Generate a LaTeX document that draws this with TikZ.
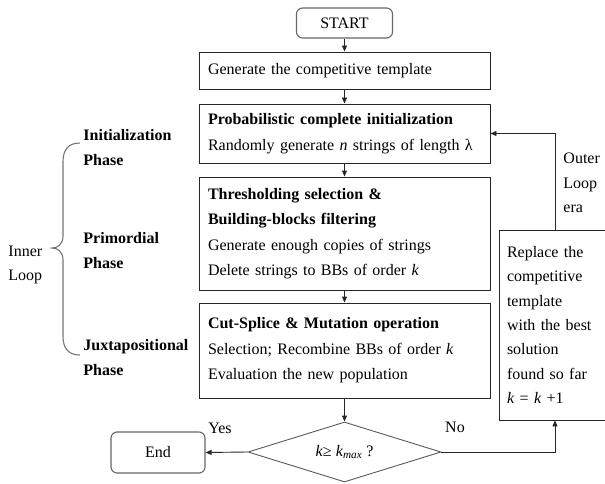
\documentclass[tikz,border=0pt]{standalone}
\usepackage{fontspec}
\setmainfont{Liberation Serif}
\usetikzlibrary{arrows.meta,shapes.geometric,calc}
\begin{document}
\begin{tikzpicture}[x=1pt,y=-1pt,
  font=\fontsize{16}{25.5}\selectfont,
  line width=0.9pt,
  proc/.style={draw=black!85, text width=273pt, align=left, inner xsep=9pt, inner ysep=0pt},
  term/.style={draw=black!60, rounded corners=6pt, line width=1.1pt, inner sep=0pt},
  flow/.style={draw=black!85, -{Triangle[length=6pt,width=5pt]}},
  phase/.style={font=\fontsize{16}{25}\selectfont\bfseries, align=left, anchor=west, inner sep=0pt},
  lbl/.style={inner sep=0pt, align=left}
]
\useasboundingbox (0,0) rectangle (605,484);

% main column
\node[term, minimum width=96pt, minimum height=30pt] (start) at (344.5,23) {START};
\node[proc, minimum height=37pt] (gen) at (344.5,70.5) {Generate the competitive template};
\node[proc, minimum height=59pt] (prob) at (344.5,133.5)
  {\textbf{Probabilistic complete initialization}\\
   Randomly generate \textit{n} strings of length λ};
\node[proc, minimum height=113pt] (thr) at (344.5,233.5)
  {\textbf{Thresholding selection \&}\\
   \textbf{Building-blocks filtering}\\
   Generate enough copies of strings\\
   Delete strings to BBs of order \textit{k}};
\node[proc, minimum height=95pt] (cut) at (344.5,350.5)
  {\textbf{Cut-Splice \& Mutation operation}\\
   Selection; Recombine BBs of order \textit{k}\\
   Evaluation the new population};
\node[diamond, aspect=3.2, minimum width=193pt, minimum height=60pt,
      draw=black!65, inner sep=0pt] (dia) at (344.5,452)
  {\textit{k}≥ \textit{k}\textsubscript{\textit{max}} ?};
\node[term, minimum width=94pt, minimum height=41pt] (end) at (158,452.5) {End};

% outer-loop box
\node[draw=black!85, text width=90pt, inner xsep=8pt, inner ysep=0pt, minimum height=190pt,
      align=left, font=\fontsize{16}{24.3}\selectfont] (rbox) at (552,325)
  {Replace the\\ competitive\\ template\\ with the best\\ solution\\ found so far\\
   \textit{k} = \textit{k} +1};

% connectors
\draw[flow] (start) -- (gen);
\draw[flow] (gen) -- (prob);
\draw[flow] (prob) -- (thr);
\draw[flow] (thr) -- (cut);
\draw[flow] (cut) -- (dia);
\draw[flow] (dia.west) -- (end.east);
\draw[flow] (dia.east) -| ([xshift=3pt]rbox.south);
\draw[flow] ([xshift=3pt]rbox.north) |- (prob.east);

% labels
\node[lbl] (yes) at (220,428) {Yes};
\node[lbl] (no) at (455,427) {No};
\node[lbl, anchor=west, font=\fontsize{16}{24.5}\selectfont] (outer) at (563,183) {Outer\\Loop\\era};

\node[phase] (ph1) at (83,147.5) {Initialization\\Phase};
\node[phase] (ph2) at (83,250.5) {Primordial\\Phase};
\node[phase] (ph3) at (83,357.5) {Juxtapositional\\Phase};
\node[lbl, anchor=west, font=\fontsize{16}{24}\selectfont] (inner) at (8,265) {Inner\\Loop};

% curly brace grouping the phases
\draw[black!55, line width=1.1pt]
  (80,143) .. controls (68,143) and (63,150) .. (63,162)
  -- (63,236) .. controls (63,244) and (58,248) .. (52,248)
  .. controls (58,248) and (63,252) .. (63,260)
  -- (63,336) .. controls (63,348) and (68,355) .. (80,355);
\end{tikzpicture}
\end{document}
